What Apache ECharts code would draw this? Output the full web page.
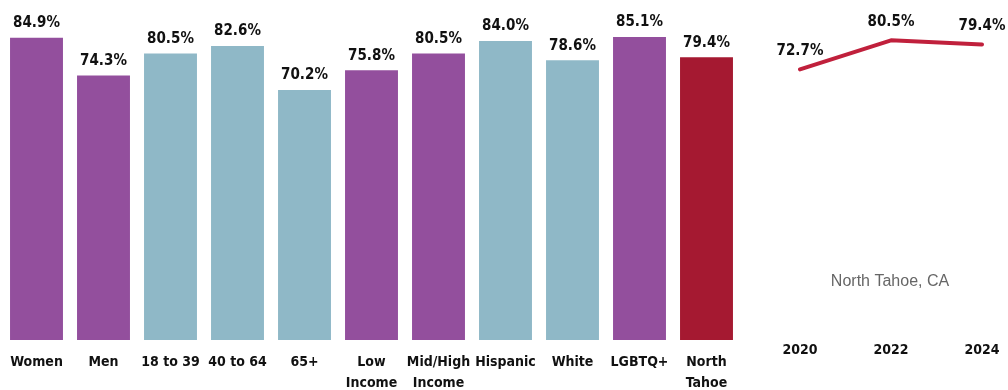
<!DOCTYPE html>
<html>
<head>
<meta charset="utf-8">
<script src="https://cdn.jsdelivr.net/npm/echarts@6/dist/echarts.min.js"></script>
<style>
  html, body { margin: 0; padding: 0; background: #fff; }
  #chart { width: 1008px; height: 390px; }
</style>
</head>
<body>
<div id="chart"></div>
<script>
const categories = [
  'Women', 'Men', '18 to 39', '40 to 64', '65+', 'Low\nIncome',
  'Mid/High\nIncome', 'Hispanic', 'White', 'LGBTQ+', 'North\nTahoe'
]
const barValues = [84.9, 74.3, 80.5, 82.6, 70.2, 75.8, 80.5, 84.0, 78.6, 85.1, 79.4]
// which group each bar belongs to (colour alternates by group)
const barGroups = [
  'gender', 'gender', 'age', 'age', 'age', 'income',
  'income', 'ethnicity', 'ethnicity', 'lgbtq', 'overall'
]
const years = ['2020', '2022', '2024']
const trendValues = [72.7, 80.5, 79.4]
const trendName = 'North Tahoe, CA'

const PURPLE = '#934f9d'
const TEAL = '#8fb8c7'
const RED = '#a51931'
const groupColor = {
  gender: PURPLE,
  age: TEAL,
  income: PURPLE,
  ethnicity: TEAL,
  lgbtq: PURPLE,
  overall: RED
}
const narrow = "'Liberation Sans Narrow', 'DejaVu Sans Condensed', 'Arial Narrow', sans-serif"

const chart = echarts.init(document.getElementById('chart'))
chart.setOption({
  animation: false,
  graphic: [
    {
      type: 'text',
      x: 890,
      y: 282,
      style: {
        text: trendName,
        fill: '#666666',
        font: "16px 'Liberation Sans', Arial, sans-serif",
        align: 'center',
        verticalAlign: 'middle'
      }
    }
  ],
  grid: [
    { left: 3, right: 268, top: 19.6, bottom: 50, outerBoundsMode: 'none' },
    { left: 800, right: 26, top: 5, bottom: 50, outerBoundsMode: 'none' }
  ],
  xAxis: [
    {
      gridIndex: 0,
      type: 'category',
      data: categories,
      axisLine: { show: false },
      axisTick: { show: false },
      axisLabel: {
        margin: 12,
        color: '#111',
        fontFamily: narrow,
        fontWeight: 'bold',
        fontSize: 14,
        lineHeight: 21,
        interval: 0
      }
    },
    {
      gridIndex: 1,
      type: 'category',
      data: years,
      boundaryGap: false,
      axisLine: { show: false },
      axisTick: { show: false },
      axisLabel: {
        margin: 3,
        color: '#111',
        fontFamily: narrow,
        fontWeight: 'bold',
        fontSize: 14,
        interval: 0
      }
    }
  ],
  yAxis: [
    { gridIndex: 0, type: 'value', min: 0, max: 90, show: false },
    { gridIndex: 1, type: 'value', min: 0, max: 90, show: false }
  ],
  series: [
    {
      type: 'bar',
      xAxisIndex: 0,
      yAxisIndex: 0,
      data: barValues,
      barCategoryGap: '21%',
      itemStyle: {
        color: (p) => groupColor[barGroups[p.dataIndex]]
      },
      label: {
        show: true,
        position: 'top',
        distance: 7,
        color: '#111',
        fontFamily: narrow,
        fontWeight: 'bold',
        fontSize: 15,
        formatter: (p) => p.value.toFixed(1) + '%'
      }
    },
    {
      type: 'line',
      name: trendName,
      xAxisIndex: 1,
      yAxisIndex: 1,
      data: trendValues,
      symbol: 'circle',
      symbolSize: 1,
      itemStyle: { color: '#c0203c' },
      lineStyle: { color: '#c0203c', width: 4, cap: 'round', join: 'round' },
      label: {
        show: true,
        position: 'top',
        distance: 10,
        color: '#111',
        fontFamily: narrow,
        fontWeight: 'bold',
        fontSize: 15,
        formatter: (p) => p.value.toFixed(1) + '%'
      }
    }
  ]
})
</script>
</body>
</html>
